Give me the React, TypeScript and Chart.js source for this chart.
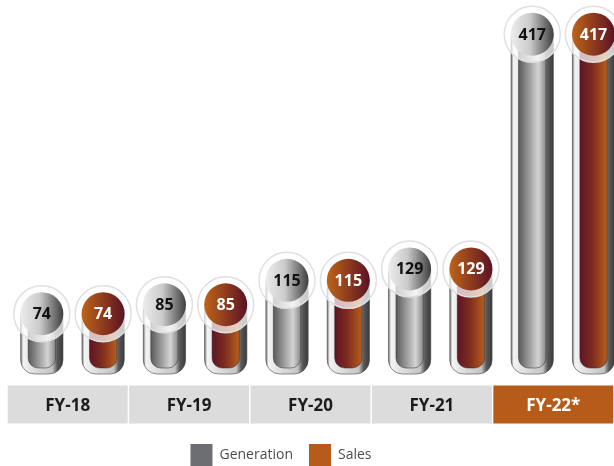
import React, { useEffect, useRef } from 'react';
import { Chart, registerables } from 'chart.js';

Chart.register(...registerables);

const categories = ['FY-18', 'FY-19', 'FY-20', 'FY-21', 'FY-22*'];
const generation = [74, 85, 115, 129, 417];
const sales = [74, 85, 115, 129, 417];
const highlightIndex = 4;

const GEN_COLOR = '#6d6e71';
const SALES_COLOR = '#b75b1a';
const BAND_GRAY = '#dcdcdd';
const FONT = '"Open Sans", "DejaVu Sans", sans-serif';

function pathBottomRounded(ctx: CanvasRenderingContext2D, x: number, y: number, w: number, h: number, r: number) {
  const rr = Math.min(r, w / 2, h);
  ctx.beginPath();
  ctx.moveTo(x, y);
  ctx.lineTo(x + w, y);
  ctx.lineTo(x + w, y + h - rr);
  ctx.arcTo(x + w, y + h, x + w - rr, y + h, rr);
  ctx.lineTo(x + rr, y + h);
  ctx.arcTo(x, y + h, x, y + h - rr, rr);
  ctx.closePath();
}

function drawCapsule(ctx: CanvasRenderingContext2D, x: number, y: number, base: number, width: number, isSales: boolean, value: number) {
  const W = width;
  const left = x - W / 2;
  ctx.save();
  // outer metallic rim
  pathBottomRounded(ctx, left, y, W, base - y, 14);
  const rim = ctx.createLinearGradient(left, 0, left + W, 0);
  rim.addColorStop(0, '#707070');
  rim.addColorStop(0.06, '#f4f4f4');
  rim.addColorStop(0.25, '#e4e4e4');
  rim.addColorStop(0.75, '#c4c4c4');
  rim.addColorStop(0.86, '#5a5a5a');
  rim.addColorStop(1, '#3a3a3a');
  ctx.fillStyle = rim;
  ctx.fill();
  ctx.lineWidth = 1;
  ctx.strokeStyle = 'rgba(70,70,70,0.6)';
  ctx.stroke();

  // inner fill
  const inset = 7.5;
  const il = left + inset;
  const iw = W - inset * 2;
  pathBottomRounded(ctx, il, y, iw, base - y - 6, 10);
  const inner = ctx.createLinearGradient(il, 0, il + iw, 0);
  if (isSales) {
    inner.addColorStop(0, '#5e1525');
    inner.addColorStop(0.45, '#7d2b20');
    inner.addColorStop(1, '#b75e1b');
  } else {
    inner.addColorStop(0, '#5a5a5a');
    inner.addColorStop(0.72, '#d4d4d4');
    inner.addColorStop(1, '#888888');
  }
  ctx.fillStyle = inner;
  ctx.fill();
  ctx.strokeStyle = 'rgba(40,40,40,0.55)';
  ctx.lineWidth = 0.9;
  ctx.stroke();

  // halo
  ctx.beginPath();
  ctx.arc(x, y, 28, 0, Math.PI * 2);
  ctx.fillStyle = 'rgba(255,255,255,0.72)';
  ctx.fill();
  ctx.lineWidth = 1.5;
  ctx.strokeStyle = '#e0e0e0';
  ctx.stroke();

  // bubble
  const r = 21.5;
  ctx.beginPath();
  ctx.arc(x, y, r, 0, Math.PI * 2);
  const cg = ctx.createLinearGradient(x - r, 0, x + r, 0);
  if (isSales) {
    cg.addColorStop(0, '#bd641a');
    cg.addColorStop(0.5, '#8e3b1e');
    cg.addColorStop(1, '#5a1225');
  } else {
    cg.addColorStop(0, '#ededed');
    cg.addColorStop(0.45, '#cbcbcb');
    cg.addColorStop(1, '#3e3e3e');
  }
  ctx.fillStyle = cg;
  ctx.fill();

  // value label
  ctx.font = `bold 16px ${FONT}`;
  ctx.textAlign = 'center';
  ctx.textBaseline = 'middle';
  ctx.fillStyle = isSales ? '#ffffff' : '#111111';
  ctx.fillText(String(value), x, y + 1);
  ctx.restore();
}

const bandPlugin = {
  id: 'categoryBand',
  beforeDraw(chart: any) {
    const ctx = chart.ctx as CanvasRenderingContext2D;
    const xs = chart.scales.x;
    const n = chart.data.labels.length;
    const w = (xs.right - xs.left) / n;
    const top = chart.chartArea.bottom + 11.5;
    ctx.save();
    for (let i = 0; i < n; i++) {
      const cx = xs.getPixelForValue(i);
      ctx.fillStyle = i === highlightIndex ? SALES_COLOR : BAND_GRAY;
      ctx.fillRect(cx - w / 2 + 0.75, top, w - 1.5, 38);
    }
    ctx.restore();
  },
};

const capsulePlugin = {
  id: 'capsules',
  beforeDatasetDraw() {
    return false;
  },
  afterDatasetsDraw(chart: any) {
    const ctx = chart.ctx as CanvasRenderingContext2D;
    chart.data.datasets.forEach((ds: any, di: number) => {
      const meta = chart.getDatasetMeta(di);
      if (meta.hidden) return;
      meta.data.forEach((el: any, i: number) => {
        const p = el.getProps(['x', 'y', 'base', 'width'], true);
        drawCapsule(ctx, p.x, p.y, p.base, p.width, di === 1, ds.data[i].y);
      });
    });
  },
};

export default function App() {
  const ref = useRef<HTMLCanvasElement | null>(null);
  useEffect(() => {
    if (!ref.current) return;
    const genPoints = generation.map((v, i) => ({ x: i, y: v }));
    const salesPoints = sales.map((v, i) => ({ x: i, y: v }));
    const chart = new Chart(ref.current, {
      type: 'bar',
      data: {
        labels: categories,
        datasets: [
          { label: 'Generation', data: genPoints, xAxisID: 'xb', backgroundColor: GEN_COLOR, borderWidth: 0, barPercentage: 0.69, categoryPercentage: 1.0 },
          { label: 'Sales', data: salesPoints, xAxisID: 'xb', backgroundColor: SALES_COLOR, borderWidth: 0, barPercentage: 0.69, categoryPercentage: 1.0 },
        ],
      },
      options: {
        animation: false,
        responsive: true,
        maintainAspectRatio: false,
        layout: { padding: { left: 0, right: 0, top: 0, bottom: 0 } },
        scales: {
          x: {
            type: 'category',
            position: 'bottom',
            grid: { display: false },
            border: { display: false },
            ticks: {
              padding: 14,
              font: { family: FONT, size: 17, weight: 'bold' },
              color: (c: any) => (c.index === highlightIndex ? '#ffffff' : '#1c1c1c'),
            },
            afterFit: (scale: any) => {
              scale.height = 54;
            },
          },
          xb: {
            type: 'linear',
            position: 'bottom',
            display: false,
            min: -0.534,
            max: 4.417,
            offset: false,
            afterBuildTicks: (scale: any) => {
              scale.ticks = categories.map((_, i) => ({ value: i }));
            },
          },
          y: {
            display: true,
            min: 0,
            max: 459,
            grid: { display: false },
            border: { display: false },
            ticks: { display: false },
            afterFit: (scale: any) => {
              scale.width = 59;
            },
          },
        },
        plugins: {
          legend: {
            position: 'bottom',
            labels: {
              boxWidth: 22,
              boxHeight: 22,
              padding: 16,
              color: '#4d4d4d',
              font: { family: FONT, size: 14 },
            },
          },
          tooltip: { enabled: false },
        },
      },
      plugins: [bandPlugin, capsulePlugin],
    });
    return () => chart.destroy();
  }, []);
  return (
    <div style={{ position: 'fixed', left: -52, top: 0, width: 666, height: 476 }}>
      <canvas ref={ref} />
    </div>
  );
}
